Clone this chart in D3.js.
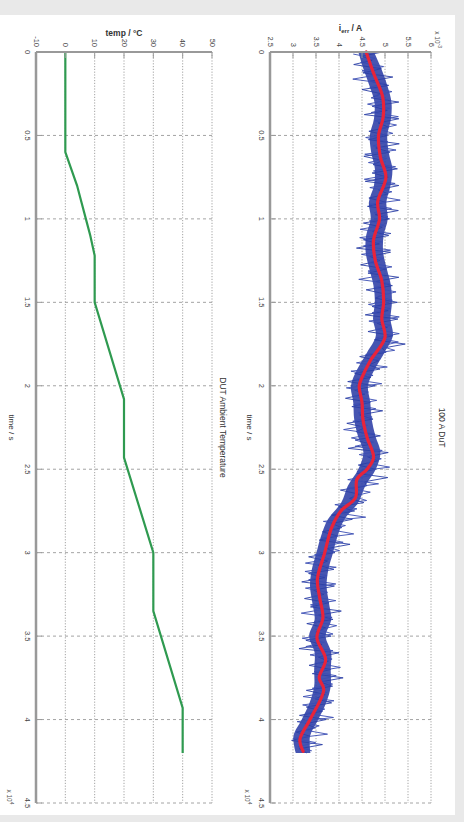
<!DOCTYPE html>
<html><head><meta charset="utf-8">
<script src="https://cdn.jsdelivr.net/npm/d3@7"></script>
<style>html,body{margin:0;padding:0;background:#e9e9e9;}svg{display:block;}</style>
</head><body>
<svg id="c" width="464" height="822"></svg>
<script>
// ---- data (time in units of 10^4 s) ----
const timeTicks = [0,0.5,1,1.5,2,2.5,3,3.5,4,4.5];
const timeTickLabels = ["0","0.5","1","1.5","2","2.5","3","3.5","4","4.5"];
const tempTicks = [-10,0,10,20,30,40,50];
const tempTickLabels = ["-10","0","10","20","30","40","50"];
const iTicks = [2.5,3,3.5,4,4.5,5,5.5,6];
const iTickLabels = ["2.5","3","3.5","4","4.5","5","5.5","6"];

const tempTime = [0,0.6,0.7,0.8,0.9,1.0,1.1,1.22,1.5,2.08,2.43,3.0,3.35,3.93,4.2];
const tempVal  = [0,0,2,4,5.5,7,8.5,10,10,20,20,30,30,40,40];

const meanTime = [0,0.126,0.27,0.39,0.5,0.63,0.75,0.9,1.0,1.13,1.25,1.37,1.5,1.6,1.71,1.85,1.95,2.0,2.1,2.2,2.31,2.43,2.5,2.56,2.67,2.75,2.85,3.0,3.16,3.27,3.39,3.51,3.64,3.75,3.82,4.0,4.12,4.19];
const meanVal  = [4.59,4.75,4.95,4.96,4.86,4.9,5.02,4.84,4.88,4.75,4.79,4.93,4.97,4.93,5.0,4.68,4.5,4.44,4.5,4.52,4.61,4.75,4.61,4.39,4.36,4.04,3.84,3.69,3.53,3.58,3.65,3.52,3.71,3.57,3.67,3.37,3.15,3.22];

// dense core of the raw signal, upper/lower edges every 0.1
const bandStep = 0.1;
const bandHi = [4.76,4.92,5.05,5.14,5.13,5.05,5.08,5.16,5.12,5.03,5.06,4.97,4.96,5.04,5.13,5.15,5.12,5.17,4.99,4.78,4.63,4.68,4.71,4.79,4.90,4.80,4.57,4.42,4.12,3.97,3.87,3.77,3.73,3.78,3.83,3.71,3.83,3.82,3.82,3.72,3.55,3.37,3.38];
const bandLo = [4.42,4.53,4.66,4.77,4.76,4.67,4.70,4.78,4.76,4.65,4.69,4.59,4.58,4.66,4.75,4.78,4.74,4.80,4.61,4.40,4.26,4.31,4.33,4.41,4.53,4.42,4.19,4.05,3.76,3.61,3.51,3.41,3.37,3.42,3.47,3.35,3.47,3.46,3.46,3.36,3.19,3.01,3.06];

// raw signal samples every 0.025 (two interleaved sample sets)
const rawStep = 0.025;
const rawVal = [
4.94,4.50,4.72,4.32, 4.92,4.52,5.17,4.68, 5.08,4.50,4.92,4.70, 5.30,4.72,5.05,4.55,
5.30,4.85,5.07,4.65, 5.05,4.64,5.31,4.80, 5.11,4.54,4.95,4.74, 5.27,4.72,5.07,4.57,
5.30,4.85,5.07,4.65, 5.02,4.62,5.29,4.79, 5.10,4.53,4.94,4.73, 5.08,4.53,4.88,4.38,
5.12,4.67,4.89,4.47, 5.03,4.63,5.30,4.80, 5.16,4.59,5.00,4.79, 5.27,4.72,5.07,4.57,
5.28,4.83,5.05,4.63, 5.17,4.77,5.44,4.94, 5.02,4.45,4.86,4.65, 4.89,4.34,4.69,4.19,
4.79,4.34,4.56,4.14, 4.68,4.28,4.95,4.45, 4.74,4.17,4.58,4.37, 4.90,4.35,4.70,4.20,
5.07,4.62,4.84,4.42, 4.79,4.39,5.06,4.56, 4.60,4.03,4.44,4.23, 4.54,3.99,4.34,3.84,
4.29,3.84,4.06,3.64, 3.97,3.57,4.24,3.74, 3.91,3.34,3.75,3.54, 3.89,3.34,3.69,3.19,
3.90,3.45,3.67,3.25, 3.78,3.38,4.05,3.55, 3.87,3.30,3.71,3.50, 3.83,3.28,3.63,3.13,
4.00,3.55,3.77,3.35, 3.82,3.42,4.09,3.59, 3.86,3.29,3.70,3.49, 3.84,3.29,3.64,3.14,
3.72,3.27,3.49,3.07, 3.37,2.97,3.64,3.14, 3.30];
const rawOffset2 = 0.0125;
const rawVal2 = [
4.31,4.79,4.47,4.97, 4.50,4.82,4.30,4.97, 4.67,5.15,4.77,5.07, 4.62,5.10,4.70,5.29,
4.77,5.25,4.87,5.17, 4.58,5.06,4.74,5.24, 4.56,5.04,4.64,5.23, 4.75,5.07,4.55,5.22,
4.67,5.15,4.83,5.33, 4.66,5.14,4.76,5.06, 4.66,4.98,4.46,5.13, 4.45,4.93,4.53,5.12,
4.49,4.97,4.65,5.15, 4.63,4.95,4.43,5.10, 4.76,5.24,4.86,5.16, 4.64,5.12,4.72,5.31,
4.65,5.13,4.81,5.31, 4.81,5.29,4.91,5.21, 4.58,4.90,4.38,5.05, 4.26,4.74,4.34,4.93,
4.16,4.64,4.32,4.82, 4.32,4.80,4.42,4.72, 4.30,4.62,4.10,4.77, 4.27,4.75,4.35,4.94,
4.44,4.92,4.60,5.10, 4.39,4.71,4.19,4.86, 4.20,4.68,4.30,4.60, 3.91,4.39,3.99,4.58,
3.66,4.14,3.82,4.32, 3.61,4.09,3.71,4.01, 3.47,3.79,3.27,3.94, 3.26,3.74,3.34,3.93,
3.27,3.75,3.43,3.93, 3.38,3.70,3.18,3.85, 3.47,3.95,3.57,3.87, 3.20,3.68,3.28,3.87,
3.37,3.85,3.53,4.03, 3.46,3.94,3.56,3.86, 3.42,3.74,3.22,3.89, 3.21,3.69,3.29,3.88,
3.09,3.57,3.25,3.75, 3.01,3.49,3.11,3.41];

// ---- drawing ----
const svg = d3.select("#c");
svg.append("rect").attr("x",0).attr("y",15).attr("width",455).attr("height",800).attr("fill","#ffffff");

const TOP = 52, W = 751;
const FONT = "'Liberation Sans', Arial, sans-serif";

function panel(opt){
  const H = opt.H;
  const g = svg.append("g").attr("transform", `translate(${opt.right},${TOP}) rotate(90)`);
  const x = d3.scaleLinear().domain([0,4.5]).range([0,W]);
  const y = d3.scaleLinear().domain(opt.domain).range([H,0]);

  // gridlines
  g.selectAll(".gx").data(timeTicks.slice(1)).join("line")
    .attr("x1",d=>x(d)).attr("x2",d=>x(d)).attr("y1",0).attr("y2",H)
    .attr("stroke","#9a9a9a").attr("stroke-width",0.9).attr("stroke-dasharray","3,3");
  g.selectAll(".gy").data(opt.ticks.slice(1)).join("line")
    .attr("x1",0).attr("x2",W).attr("y1",d=>y(d)).attr("y2",d=>y(d))
    .attr("stroke","#9a9a9a").attr("stroke-width",0.9).attr("stroke-dasharray","1.2,1.6");

  // data
  opt.draw(g,x,y);

  // axis box
  g.append("line").attr("x1",0).attr("x2",W).attr("y1",H).attr("y2",H).attr("stroke","#999").attr("stroke-width",2.5);
  g.append("line").attr("x1",0).attr("x2",0).attr("y1",0).attr("y2",H).attr("stroke","#999").attr("stroke-width",2);
  // tick marks
  g.selectAll(".tx").data(timeTicks).join("line")
    .attr("x1",d=>x(d)).attr("x2",d=>x(d)).attr("y1",H).attr("y2",H-6).attr("stroke","#999").attr("stroke-width",1);
  g.selectAll(".ty").data(opt.ticks).join("line")
    .attr("x1",0).attr("x2",6).attr("y1",d=>y(d)).attr("y2",d=>y(d)).attr("stroke","#999").attr("stroke-width",1);

  // tick labels
  g.selectAll(".lx").data(timeTicks).join("text")
    .attr("x",d=>x(d)).attr("y",H+5).attr("dominant-baseline","hanging").attr("text-anchor","middle")
    .attr("font-family",FONT).attr("font-size",7.5).attr("fill","#444")
    .text((d,i)=>timeTickLabels[i]);
  g.selectAll(".ly").data(opt.ticks).join("text")
    .attr("x",-5).attr("y",d=>y(d)).attr("dominant-baseline","central").attr("text-anchor","end")
    .attr("font-family",FONT).attr("font-size",7.5).attr("fill","#444")
    .text((d,i)=>opt.tickLabels[i]);

  // exponent labels
  const ex = g.append("text").attr("x",W-6).attr("y",H+opt.xlabOff+2).attr("text-anchor","middle")
    .attr("font-family",FONT).attr("font-size",6.5).attr("fill","#555");
  ex.append("tspan").text("x 10");
  ex.append("tspan").attr("dy",-3).attr("font-size",5).text("4");
  if (opt.yexp){
    const ey = g.append("text").attr("x",-4).attr("y",-4).attr("text-anchor","end")
      .attr("font-family",FONT).attr("font-size",6.5).attr("fill","#555");
    ey.append("tspan").text("x 10");
    ey.append("tspan").attr("dy",-3).attr("font-size",5).text(opt.yexp);
  }

  // axis labels
  g.append("text").attr("x",W/2).attr("y",H+opt.xlabOff).attr("text-anchor","middle")
    .attr("font-family",FONT).attr("font-size",8).attr("fill","#333").text("time / s");
  const yl = g.append("text").attr("transform",`translate(${opt.ylabOff},${H/2}) rotate(-90)`).attr("text-anchor","middle")
    .attr("font-family",FONT).attr("font-size",8.5).attr("font-weight","bold").attr("fill","#333");
  opt.ylab(yl);
  // title
  g.append("text").attr("x",W/2).attr("y",-8).attr("text-anchor","middle")
    .attr("font-family",FONT).attr("font-size",8.5).attr("fill","#333").text(opt.title);
}

panel({
  right:212, H:176, domain:[-10,50], ticks:tempTicks, tickLabels:tempTickLabels,
  title:"DUT Ambient Temperature", xlabOff:27, ylabOff:-16,
  ylab: t => t.text("temp / °C"),
  draw:(g,x,y)=>{
    const line = d3.line().x((d,i)=>x(tempTime[i])).y(d=>y(d));
    g.append("path").attr("d",line(tempVal)).attr("fill","none").attr("stroke","#2f9a50").attr("stroke-width",2.2);
  }
});

panel({
  right:431, H:161, domain:[2.5,6], ticks:iTicks, tickLabels:iTickLabels,
  title:"100 A DuT", xlabOff:23, ylabOff:-21, yexp:"-3",
  ylab: t => { t.append("tspan").text("i"); t.append("tspan").attr("dy",2).attr("font-size",6).text("err"); t.append("tspan").attr("dy",-2).text(" / A"); },
  draw:(g,x,y)=>{
    const band = d3.area().x((d,i)=>x(i*bandStep)).y0((d,i)=>y(bandLo[i])).y1(d=>y(d)).curve(d3.curveCatmullRom);
    g.append("path").attr("d",band(bandHi)).attr("fill","#2c3ea6").attr("opacity",0.88);
    const raw = d3.line().x((d,i)=>x(i*rawStep)).y(d=>y(d));
    g.append("path").attr("d",raw(rawVal)).attr("fill","none").attr("stroke","#2b3fa6").attr("stroke-width",0.9).attr("stroke-linejoin","round");
    const raw2 = d3.line().x((d,i)=>x(rawOffset2 + i*rawStep)).y(d=>y(d));
    g.append("path").attr("d",raw2(rawVal2)).attr("fill","none").attr("stroke","#3a4db3").attr("stroke-width",0.9).attr("stroke-linejoin","round");
    const mean = d3.line().x((d,i)=>x(meanTime[i])).y(d=>y(d)).curve(d3.curveCatmullRom);
    g.append("path").attr("d",mean(meanVal)).attr("fill","none").attr("stroke","#e8243a").attr("stroke-width",3.2).attr("stroke-linecap","round");
  }
});
</script>
</body></html>
